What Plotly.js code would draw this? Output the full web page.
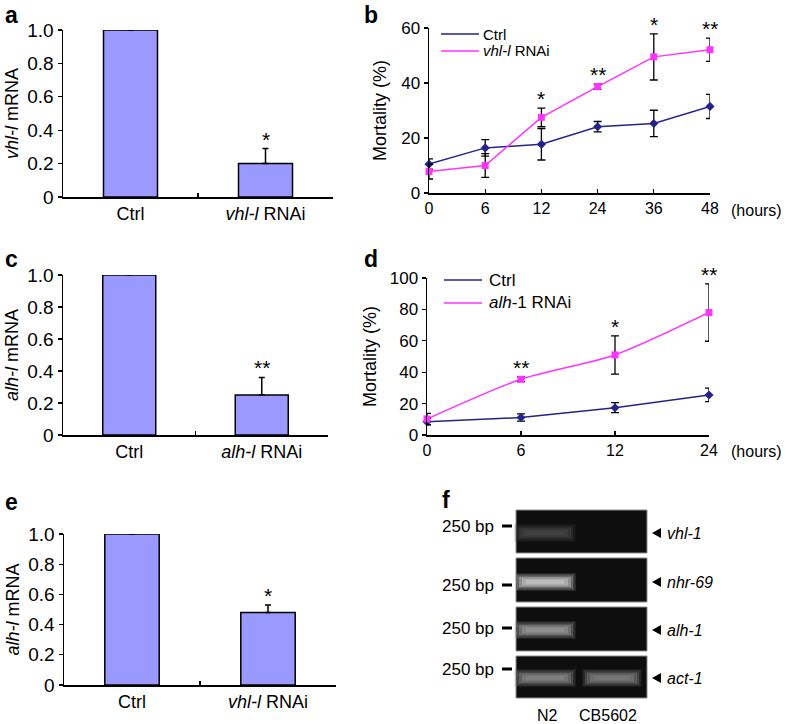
<!DOCTYPE html>
<html><head><meta charset="utf-8">
<script src="https://cdn.plot.ly/plotly-3.0.1.min.js"></script>
<style>html,body{margin:0;padding:0;background:#fff}</style>
</head><body><div id="chart" style="width:788px;height:724px"></div>
<script>
// ---------- data ----------
const aCategories = ['Ctrl', '<i>vhl-l</i> RNAi'];
const aValues = [1.0, 0.20];
const aErrors = [0, 0.09];
const aStars = ['', '*'];

const cCategories = ['Ctrl', '<i>alh-l</i> RNAi'];
const cValues = [1.0, 0.25];
const cErrors = [0, 0.11];
const cStars = ['', '**'];

const eCategories = ['Ctrl', '<i>vhl-l</i> RNAi'];
const eValues = [1.0, 0.48];
const eErrors = [0, 0.05];
const eStars = ['', '*'];

const bHours = ['0', '6', '12', '24', '36', '48'];
const bCtrl = [10.5, 16.4, 17.7, 24.1, 25.3, 31.5];
const bCtrlErr = [1.9, 3.0, 5.7, 1.9, 4.8, 4.4];
const bRnai = [7.8, 10.0, 27.5, 38.7, 49.5, 52.1];
const bRnaiErr = [2.7, 4.3, 3.4, 1.0, 8.4, 4.2];
const bStars = ['', '', '*', '**', '*', '**'];
const bSeriesNames = ['Ctrl', '<i>vhl-l</i> RNAi'];

const dHours = ['0', '6', '12', '24'];
const dCtrl = [8.5, 11.1, 17.4, 25.5];
const dCtrlErr = [2.1, 2.3, 3.2, 4.3];
const dRnai = [10.2, 35.5, 51.0, 78.0];
const dRnaiErr = [3.6, 1.5, 12.2, 18.3];
const dStars = ['', '**', '*', '**'];
const dSeriesNames = ['Ctrl', '<i>alh</i>-1 RNAi'];

const gelGenes = ['vhl-1', 'nhr-69', 'alh-1', 'act-1'];
const gelLanes = ['N2', 'CB5602'];
const gelMarker = '250 bp';
// relative band brightness [N2, CB5602] per gene (0 = no band)
const gelBands = [[0.15, 0.0], [0.85, 0.0], [0.6, 0.0], [0.5, 0.45]];

// ---------- helpers ----------
const W = 788, H = 724;
const PX = p => p / W;
const PY = p => 1 - p / H;
const FONT = 'Liberation Sans, Arial, Helvetica, sans-serif';
const NAVY = '#23238c';
const PINK = '#ff33ff';
const BARC = '#9999ff';

const traces = [];
const annotations = [];
const shapes = [];

function starNote(ax, i, y, s) {
  annotations.push({xref: 'x' + ax, yref: 'y' + ax, x: i, y: y,
    text: s, showarrow: false, yanchor: 'bottom', yshift: -4,
    font: {size: 21, family: FONT, color: '#000'}});
}

function barPanel(ax, cats, vals, errs, stars) {
  traces.push({
    type: 'bar', x: cats, y: vals, xaxis: 'x' + ax, yaxis: 'y' + ax,
    width: 0.4, marker: {color: BARC, line: {color: '#000', width: 1.5}},
    error_y: {type: 'data', symmetric: false, array: errs, arrayminus: errs.map(() => 0),
      color: '#000', thickness: 1.5, width: 3},
    showlegend: false, hoverinfo: 'x+y'
  });
  stars.forEach((s, i) => { if (s) starNote(ax, i, vals[i] + errs[i], s); });
}

function linePanel(ax, hours, c, ce, r, re, stars, spline) {
  const common = {xaxis: 'x' + ax, yaxis: 'y' + ax, cliponaxis: false, showlegend: false};
  traces.push(Object.assign({type: 'scatter', mode: 'lines', x: hours, y: c,
    line: {color: NAVY, width: 1.5}}, common));
  traces.push(Object.assign({type: 'scatter', mode: 'lines', x: hours, y: r,
    line: {color: PINK, width: 1.5, shape: spline ? 'spline' : 'linear', smoothing: 0.7}}, common));
  traces.push(Object.assign({type: 'scatter', mode: 'markers', x: hours, y: c,
    marker: {symbol: 'diamond', size: 7, color: NAVY},
    error_y: {type: 'data', array: ce, color: '#000', thickness: 1.3, width: 4}}, common));
  traces.push(Object.assign({type: 'scatter', mode: 'markers', x: hours, y: r,
    marker: {symbol: 'square', size: 7, color: PINK},
    error_y: {type: 'data', array: re, color: '#000', thickness: 1.3, width: 4}}, common));
  stars.forEach((s, i) => {
    if (s) starNote(ax, i, Math.max(c[i] + ce[i], r[i] + re[i]), s);
  });
}

barPanel('', aCategories, aValues, aErrors, aStars);
linePanel('2', bHours, bCtrl, bCtrlErr, bRnai, bRnaiErr, bStars, false);
barPanel('3', cCategories, cValues, cErrors, cStars);
linePanel('4', dHours, dCtrl, dCtrlErr, dRnai, dRnaiErr, dStars, true);
barPanel('5', eCategories, eValues, eErrors, eStars);

// ---------- axes ----------
function yAx(dom, range, vals, text, title, fs, tfs, standoff) {
  return {domain: [PY(dom[1]), PY(dom[0])], range: range, tickvals: vals, ticktext: text,
    ticks: 'outside', ticklen: 4, tickwidth: 1.3, tickcolor: '#000',
    showline: true, linecolor: '#000', linewidth: 1.5, showgrid: false, zeroline: false,
    tickfont: {size: fs, family: FONT, color: '#000'}, fixedrange: true,
    title: {text: title, font: {size: tfs, family: FONT, color: '#000'}, standoff: standoff}};
}
function xAx(dom, range, fs, boundaries, anchor) {
  const o = {domain: [PX(dom[0]), PX(dom[1])], range: range, type: 'category',
    ticks: 'inside', ticklen: 4, tickwidth: 1.3, tickcolor: '#000',
    showline: true, linecolor: '#000', linewidth: 1.5, showgrid: false, zeroline: false,
    tickfont: {size: fs, family: FONT, color: '#000'}, anchor: anchor, fixedrange: true};
  if (boundaries) o.tickson = 'boundaries';
  return o;
}
const barTicks = [0, 0.2, 0.4, 0.6, 0.8, 1.0];
const barTickText = ['0', '0.2', '0.4', '0.6', '0.8', '1.0'];

const layout = {
  width: W, height: H, margin: {l: 0, r: 0, t: 0, b: 0},
  paper_bgcolor: '#fff', plot_bgcolor: 'rgba(0,0,0,0)',
  font: {family: FONT, color: '#000'}, showlegend: false, bargap: 0,
  xaxis: xAx([63, 333], [-0.5, 1.5], 18, true, 'y'),
  yaxis: yAx([30, 197], [0, 1], barTicks, barTickText, '<i>vhl-l</i> mRNA', 19, 18, 4),
  xaxis2: xAx([429, 710], [0, 5], 16, false, 'y2'),
  yaxis2: yAx([28, 193], [0, 60], [0, 20, 40, 60], ['0', '20', '40', '60'], 'Mortality (%)', 17, 18, 10),
  xaxis3: xAx([63, 328], [-0.5, 1.5], 18, true, 'y3'),
  yaxis3: yAx([275, 435], [0, 1], barTicks, barTickText, '<i>alh-l</i> mRNA', 19, 18, 4),
  xaxis4: xAx([427, 709], [0, 3], 16, false, 'y4'),
  yaxis4: yAx([278, 435], [0, 100], [0, 20, 40, 60, 80, 100], ['0', '20', '40', '60', '80', '100'], 'Mortality (%)', 17, 18, 8),
  xaxis5: xAx([64, 336], [-0.5, 1.5], 18, true, 'y5'),
  yaxis5: yAx([534, 685], [0, 1], barTicks, barTickText, '<i>alh-l</i> mRNA', 19, 18, 4),
  annotations: annotations, shapes: shapes
};
['yaxis', 'yaxis2', 'yaxis3', 'yaxis4', 'yaxis5'].forEach((k, i) => {
  layout[k].anchor = i === 0 ? 'x' : 'x' + (i + 1);
});

// ---------- panel letters & extra text ----------
function paperText(x, y, text, size, opts) {
  annotations.push(Object.assign({xref: 'paper', yref: 'paper', x: PX(x), y: PY(y), text: text,
    showarrow: false, xanchor: 'left', yanchor: 'middle',
    font: {size: size, family: FONT, color: '#000'}}, opts || {}));
}
[['a', 3, 15], ['b', 362, 15], ['c', 3, 259], ['d', 362, 259], ['e', 3, 502], ['f', 440, 500]]
  .forEach(l => paperText(l[1], l[2], '<b>' + l[0] + '</b>', 23));
paperText(729, 210, '(hours)', 16);
paperText(729, 452, '(hours)', 16);

// manual legends
function legend(x0, x1, tx, ys, names, size) {
  [NAVY, PINK].forEach((col, i) => {
    shapes.push({type: 'line', xref: 'paper', yref: 'paper', x0: PX(x0), x1: PX(x1), y0: PY(ys[i]), y1: PY(ys[i]),
      line: {color: col, width: 1.5}});
    paperText(tx, ys[i], names[i], size);
  });
}
legend(441, 479, 481, [34, 51], bSeriesNames, 15);
legend(444, 482, 487, [280, 303], dSeriesNames, 17);

// ---------- gel (panel f) ----------
const boxes = [[510, 553], [558, 602], [607, 651], [656, 698]];
const laneX = [[519, 571], [587, 637]];
const bandY = [533, 582, 630, 678];
boxes.forEach((b, i) => {
  shapes.push({type: 'rect', xref: 'paper', yref: 'paper', x0: PX(516), x1: PX(647), y0: PY(b[1]), y1: PY(b[0]),
    fillcolor: '#0e0e0e', line: {color: '#8c8c8c', width: 1}, layer: 'above'});
  gelBands[i].forEach((v, j) => {
    if (v <= 0) return;
    const g = Math.round(40 + v * 190);
    const col = 'rgb(' + g + ',' + g + ',' + g + ')';
    [[5, 4, 0.12], [3.5, 3, 0.18], [2, 1.5, 0.28], [0, 0, 0.4], [-3, -1.5, 0.5], [-7, -3, 0.5]].forEach(L => {
      shapes.push({type: 'rect', xref: 'paper', yref: 'paper',
        x0: PX(laneX[j][0] - L[0]), x1: PX(laneX[j][1] + L[0]),
        y0: PY(bandY[i] + 5 + L[1]), y1: PY(bandY[i] - 5 - L[1]),
        fillcolor: col, opacity: L[2], line: {width: 0}, layer: 'above'});
    });
  });
  // marker dash and label
  const my = [526, 585, 628, 669][i];
  shapes.push({type: 'rect', xref: 'paper', yref: 'paper', x0: PX(502), x1: PX(512), y0: PY(my + 1.5), y1: PY(my - 1.5),
    fillcolor: '#000', line: {width: 0}});
  paperText(496, my, gelMarker, 17, {xanchor: 'right'});
  // arrow head and gene name
  const ay = bandY[i];
  shapes.push({type: 'path', xref: 'paper', yref: 'paper',
    path: 'M' + PX(652) + ',' + PY(ay) + ' L' + PX(661) + ',' + PY(ay - 5) + ' L' + PX(661) + ',' + PY(ay + 5) + ' Z',
    fillcolor: '#000', line: {width: 0}});
  paperText(665, ay, '<i>' + gelGenes[i] + '</i>', 16);
});
paperText(547, 715, gelLanes[0], 16, {xanchor: 'center'});
paperText(608, 715, gelLanes[1], 16, {xanchor: 'center'});

Plotly.newPlot('chart', traces, layout, {displayModeBar: false, staticPlot: true});
</script></body></html>
